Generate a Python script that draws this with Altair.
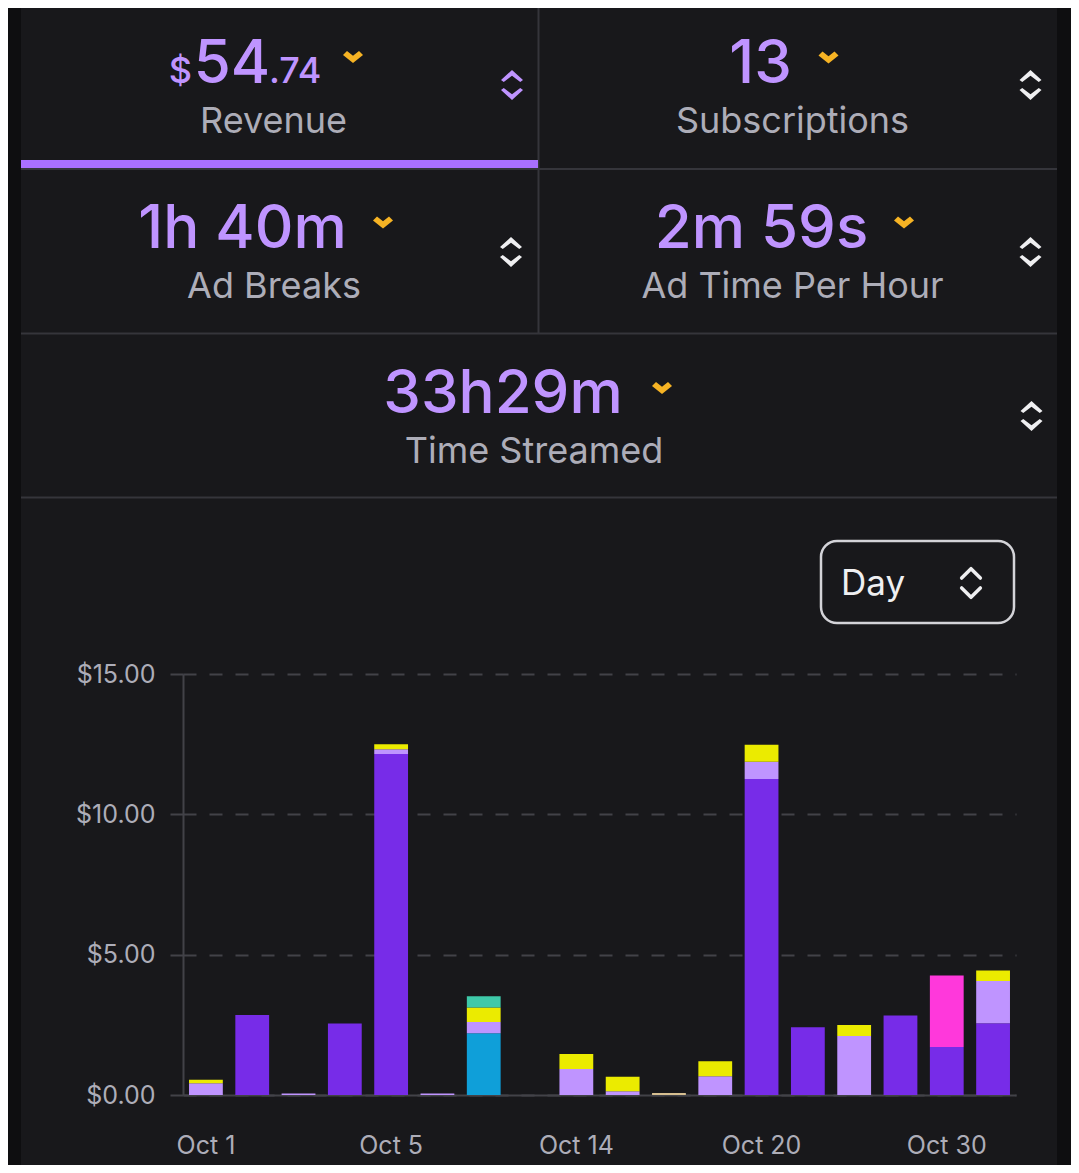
import altair as alt
import pandas as pd

# ---------------- data ----------------
dates = ["Oct 1", "Oct 2", "Oct 3", "Oct 4", "Oct 5", "Oct 7", "Oct 9", "Oct 11",
         "Oct 14", "Oct 15", "Oct 17", "Oct 18", "Oct 20", "Oct 22", "Oct 25",
         "Oct 27", "Oct 30", "Oct 31"]
tick_labels = ["Oct 1", "Oct 5", "Oct 14", "Oct 20", "Oct 30"]
y_ticks = [0, 5, 10, 15]

series_names = ["Subscriptions", "Bits", "Prime Subscriptions", "Ads",
                "Extensions", "Gifted Subscriptions", "Other"]
series_colors = ["#772ce8", "#0f9fd9", "#bf94ff", "#ebeb00",
                 "#3ec9a9", "#ff38db", "#d6bf91"]

subscriptions = [0, 2.85, 0, 2.55, 12.15, 0, 0, 0, 0, 0, 0, 0, 11.26, 2.41, 0, 2.83, 1.71, 2.56]
bits          = [0, 0, 0, 0, 0, 0, 2.20, 0, 0, 0, 0, 0, 0, 0, 0, 0, 0, 0]
prime         = [0.42, 0, 0.05, 0, 0.17, 0.05, 0.40, 0, 0.93, 0.13, 0, 0.67, 0.61, 0, 2.10, 0, 0, 1.50]
ads           = [0.12, 0, 0, 0, 0.18, 0, 0.52, 0, 0.53, 0.52, 0, 0.53, 0.61, 0, 0.39, 0, 0, 0.38]
extensions    = [0, 0, 0, 0, 0, 0, 0.40, 0, 0, 0, 0, 0, 0, 0, 0, 0, 0, 0]
gifted        = [0, 0, 0, 0, 0, 0, 0, 0, 0, 0, 0, 0, 0, 0, 0, 0, 2.55, 0]
other         = [0, 0, 0, 0, 0, 0, 0, 0, 0, 0, 0.07, 0, 0, 0, 0, 0, 0, 0]
series_values = [subscriptions, bits, prime, ads, extensions, gifted, other]

tile_values = ["$54.74", "13", "1h 40m", "2m 59s", "33h29m"]
tile_labels = ["Revenue", "Subscriptions", "Ad Breaks", "Ad Time Per Hour", "Time Streamed"]
period_label = "Day"

rows = []
for si, (name, vals) in enumerate(zip(series_names, series_values)):
    for d, v in zip(dates, vals):
        if v > 0:
            rows.append({"date": d, "series": name, "value": v, "order": si})
df = pd.DataFrame(rows)

# ---------------- style / layout ----------------
W, H = 1063, 1157
BG_OUT = "#0e0e10"
PANEL = "#18181b"
BORDER = "#35353b"
AX = "#424248"
VALUE_C = "#bf94ff"
LABEL_C = "#adadb8"
WHITE = "#efeff1"
ORANGE = "#f6b324"
ACCENT = "#a970ff"
FONT = "Inter"

one = alt.Data(values=[{"k": 1}])

CHEV_DOWN = "M-1,-0.2 L-0.6,-0.6 L0,-0.12 L0.6,-0.6 L1,-0.2 L0,0.6 Z"
UPDOWN = ("M0,-1.36 L1,-0.45 L0.75,-0.27 L0,-0.85 L-0.75,-0.27 L-1,-0.45 Z "
          "M0,1.36 L1,0.45 L0.75,0.27 L0,0.85 L-0.75,0.27 L-1,0.45 Z")
UPDOWN_OPEN = "M-0.85,-0.45 L0,-1.3 L0.85,-0.45 M-0.85,0.45 L0,1.3 L0.85,0.45"


def txt(s, x, y, size, color, align="center", weight=400):
    return alt.Chart(one).mark_text(
        text=s, align=align, baseline="alphabetic", font=FONT,
        fontSize=size, fontWeight=weight, color=color
    ).encode(x=alt.value(x), y=alt.value(y))


def rect(x1, x2, y1, y2, fill, **kw):
    return alt.Chart(one).mark_rect(fill=fill, **kw).encode(
        x=alt.value(x1), x2=alt.value(x2), y=alt.value(y1), y2=alt.value(y2))


def hrule(x1, x2, y, color, w=2):
    return alt.Chart(one).mark_rule(color=color, strokeWidth=w).encode(
        x=alt.value(x1), x2=alt.value(x2), y=alt.value(y))


def vrule(x, y1, y2, color, w=2):
    return alt.Chart(one).mark_rule(color=color, strokeWidth=w).encode(
        x=alt.value(x), y=alt.value(y1), y2=alt.value(y2))


def symbol(path, x, y, size, color, filled=True, sw=0):
    if filled:
        m = alt.Chart(one).mark_point(shape=path, size=size, filled=True,
                                      fill=color, opacity=1, strokeWidth=0)
    else:
        m = alt.Chart(one).mark_point(shape=path, size=size, filled=False,
                                      stroke=color, opacity=1, strokeWidth=sw,
                                      strokeCap="round", strokeJoin="round")
    return m.encode(x=alt.value(x), y=alt.value(y))


layers = []

# stacked revenue bars (axes drawn on the panel-coloured view fill)
bars = alt.Chart(df).mark_bar().encode(
    x=alt.X("date:N", sort=None,
            scale=alt.Scale(domain=dates, range=[175, 1008],
                            paddingInner=0.27, paddingOuter=0.13),
            axis=alt.Axis(orient="bottom", offset=-70, values=tick_labels,
                          labelFont=FONT, labelFontSize=25, labelColor=LABEL_C,
                          labelPadding=38, labelAngle=0, ticks=False,
                          domainColor=AX, domainWidth=2, grid=False, title=None)),
    y=alt.Y("value:Q", stack="zero",
            scale=alt.Scale(domain=[0, 15], range=[1087, 666], nice=False, zero=True),
            axis=alt.Axis(orient="left", offset=-175, values=y_ticks,
                          labelExpr="'$' + format(datum.value, '.2f')",
                          labelFont=FONT, labelFontSize=25, labelColor=LABEL_C,
                          labelPadding=15, tickSize=13, tickColor=AX, tickWidth=2,
                          domainColor=AX, domainWidth=2, grid=True, gridColor=AX,
                          gridWidth=2, gridDash=[13, 13], title=None)),
    color=alt.Color("series:N",
                    scale=alt.Scale(domain=series_names, range=series_colors),
                    legend=None),
    order=alt.Order("order:Q"),
)
layers.append(bars)

# dark frame strips left and right of the panel
layers.append(rect(0, 13, 0, H, BG_OUT))
layers.append(rect(1049, W, 0, H, BG_OUT))
# tile dividers
layers.append(hrule(13, 1049, 161, BORDER))
layers.append(hrule(13, 1049, 325.5, BORDER))
layers.append(hrule(13, 1049, 489.5, BORDER))
layers.append(vrule(530.5, 0, 325.5, BORDER))
# selected tile underline
layers.append(rect(13, 530, 152, 160, ACCENT))

# tiles
tile_layout = [
    dict(vx=224, vy=75, cx=345, cy=49, ax=504, ay=77, lx=265.5, ly=125),
    dict(vx=752.5, vy=75, cx=820.5, cy=49.5, ax=1022.5, ay=77, lx=784.5, ly=125),
    dict(vx=234.5, vy=240, cx=375, cy=214.5, ax=503, ay=244, lx=266, ly=290),
    dict(vx=753.5, vy=240, cx=896, cy=214.5, ax=1022.5, ay=244, lx=784.5, ly=290),
    dict(vx=495, vy=405, cx=654, cy=380, ax=1023.5, ay=408, lx=526, ly=455),
]
for i, (val, lab, L) in enumerate(zip(tile_values, tile_labels, tile_layout)):
    if val.startswith("$"):
        whole, cents = val[1:].split(".")
        layers.append(txt("$", L["vx"] - 40, L["vy"], 36, VALUE_C, "right", 500))
        layers.append(txt(whole, L["vx"], L["vy"], 60, VALUE_C, "center", 500))
        layers.append(txt("." + cents, L["vx"] + 37, L["vy"], 36, VALUE_C, "left", 500))
    else:
        layers.append(txt(val, L["vx"], L["vy"], 60, VALUE_C, "center", 500))
    layers.append(symbol(CHEV_DOWN, L["cx"], L["cy"], 400, ORANGE))
    layers.append(symbol(UPDOWN, L["ax"], L["ay"], 484, VALUE_C if i == 0 else WHITE))
    layers.append(txt(lab, L["lx"], L["ly"], 36, LABEL_C, "center", 400))

# period dropdown
layers.append(rect(813, 1006, 533, 615, "transparent", stroke="#d3d3d8",
                   strokeWidth=2.5, cornerRadius=16))
layers.append(txt(period_label, 833, 587, 35, WHITE, "left", 400))
layers.append(symbol(UPDOWN_OPEN, 963, 575, 484, WHITE, filled=False, sw=3.5))

chart = alt.layer(*layers).properties(
    width=W, height=H,
    autosize=alt.AutoSizeParams(type="none"),
    padding=0,
    background=BG_OUT,
).configure_view(stroke=None, fill=PANEL)

chart.save("out.html", embed_options={"renderer": "svg", "actions": False})
